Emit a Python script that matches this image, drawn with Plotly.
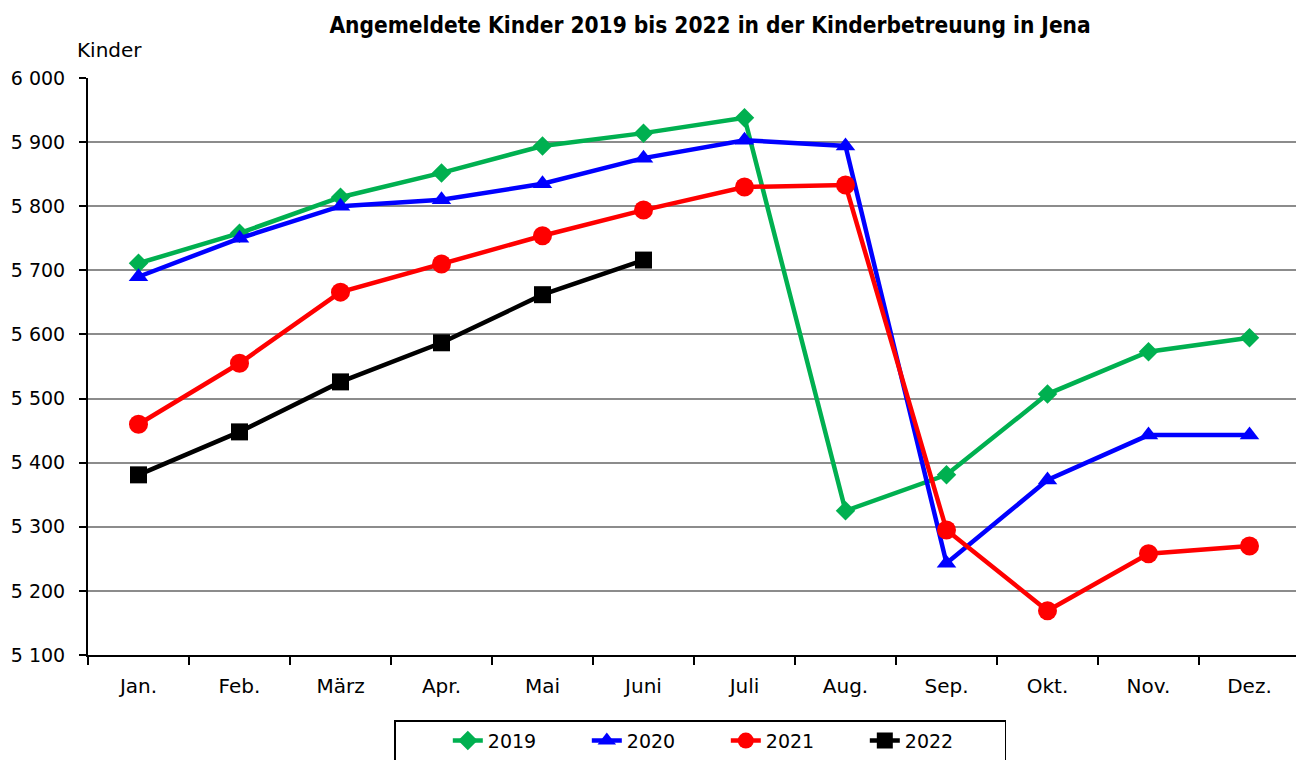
import plotly.graph_objects as go

months = ["Jan.", "Feb.", "März", "Apr.", "Mai", "Juni", "Juli", "Aug.", "Sep.", "Okt.", "Nov.", "Dez."]
v2019 = [5711, 5758, 5814, 5852, 5894, 5914, 5938, 5325, 5381, 5507, 5573, 5595]
v2020 = [5690, 5750, 5800, 5810, 5835, 5875, 5903, 5894, 5243, 5373, 5443, 5443]
v2021 = [5460, 5555, 5666, 5710, 5754, 5794, 5830, 5833, 5295, 5169, 5258, 5270]
v2022 = [5381, 5448, 5526, 5587, 5662, 5716]
years = ["2019", "2020", "2021", "2022"]

FONT = "DejaVu Sans, sans-serif"
TFONT = "DejaVu Sans Condensed, DejaVu Sans, sans-serif"
NB = "\u00a0"

styles = [
    ("#00B050", "diamond", 15),
    ("#0000FF", "triangle-up", 17),
    ("#FF0000", "circle", 19),
    ("#000000", "square", 17),
]
values = [v2019, v2020, v2021, v2022]

fig = go.Figure()
for year, vals, (color, sym, size) in zip(years, values, styles):
    fig.add_trace(go.Scatter(
        x=months[:len(vals)], y=vals, name=year, mode="lines+markers",
        line=dict(color=color, width=4.5),
        marker=dict(symbol=sym, size=size, color=color),
    ))

fig.update_layout(
    width=1296, height=752,
    margin=dict(l=80, r=4, t=70, b=105, autoexpand=False),
    paper_bgcolor="white", plot_bgcolor="white",
    separators=", ",
    font=dict(family=FONT, size=20, color="black"),
    title=dict(text="<b>Angemeldete Kinder 2019 bis 2022 in der Kinderbetreuung in Jena</b>",
               x=0.5417, xanchor="center", y=0.977, yanchor="middle",
               font=dict(family=TFONT, size=22.5, color="black")),
    showlegend=True,
    legend=dict(orientation="h", x=0.2525, xanchor="left", y=-0.113, yanchor="top",
                bordercolor="black", borderwidth=1.5, bgcolor="white",
                font=dict(family=FONT, size=19),
                entrywidth=94, entrywidthmode="pixels",
                title=dict(text=NB * 7, side="left", font=dict(family=FONT, size=19)),
                traceorder="normal", tracegroupgap=0),
    annotations=[dict(text="Kinder", xref="paper", yref="paper", x=-0.011, y=1.0485,
                      xanchor="left", yanchor="middle", showarrow=False,
                      font=dict(family=FONT, size=20))],
)
fig.update_xaxes(
    type="category", categoryorder="array", categoryarray=months,
    range=[-0.5, 11.5], showline=True, linecolor="black", linewidth=2,
    ticks="outside", tickson="boundaries", ticklen=8, tickwidth=2, tickcolor="black",
    showgrid=False, tickfont=dict(family=FONT, size=20), ticklabelstandoff=12,
    automargin=False,
)
fig.update_yaxes(
    range=[5100, 6000], dtick=100, tickformat=",d",
    showline=True, linecolor="black", linewidth=2,
    ticks="outside", ticklen=7, tickwidth=2, tickcolor="black",
    showgrid=True, gridcolor="#8c8c8c", gridwidth=1.5, zeroline=False,
    tickfont=dict(family=FONT, size=19), ticklabelstandoff=10, automargin=False,
)

fig.write_html("out.html")
